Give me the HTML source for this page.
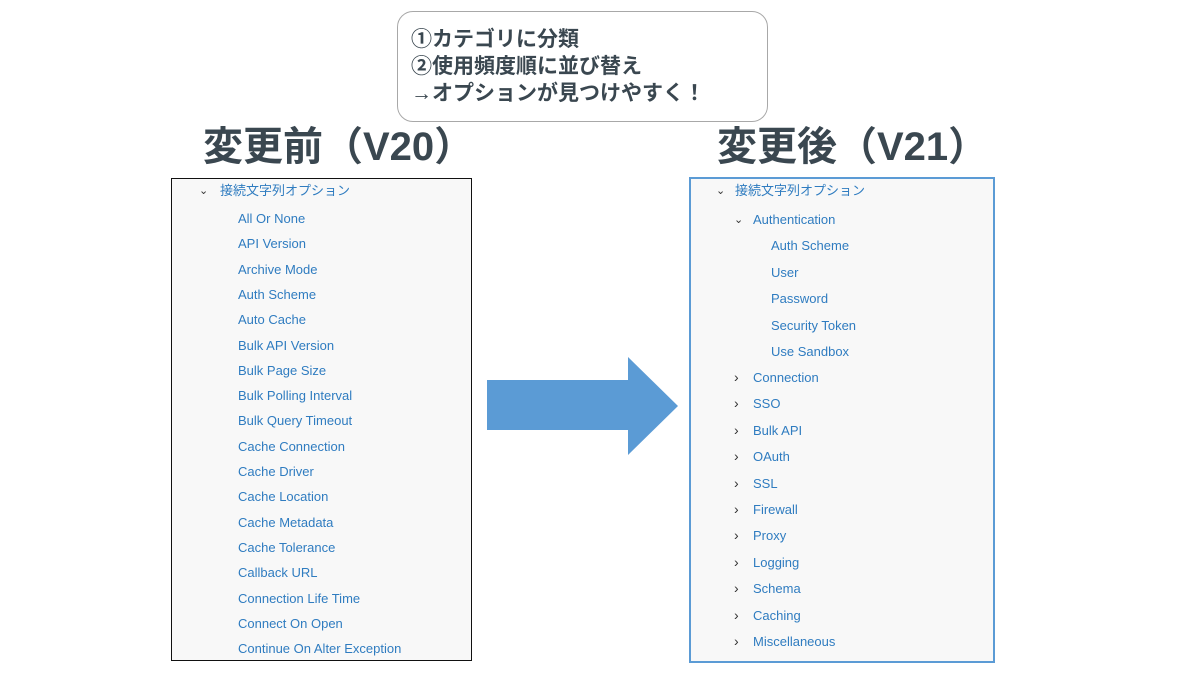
<!DOCTYPE html>
<html><head><meta charset="utf-8"><style>
body{margin:0;width:1200px;height:675px;background:#fff;position:relative;overflow:hidden;font-family:"Liberation Sans","Noto Sans CJK JP",sans-serif}
.a{position:absolute;white-space:nowrap}
.box{position:absolute;background:#f8f8f8}
.it{position:absolute;font-size:13px;color:#2f7cc0;line-height:16px;white-space:nowrap}
.t{font-size:40px;font-weight:bold;color:#3a4750;line-height:48px}
.chev{position:absolute;font-size:11px;color:#333;line-height:16px}
</style></head><body>
<div class="a" style="left:397px;top:11px;width:369px;height:109px;border:1px solid #a8a8a8;border-radius:16px"></div>
<div class="a" style="left:411px;top:26px;font-size:21px;font-weight:bold;color:#3a4750;line-height:27px">①カテゴリに分類<br>②使用頻度順に並び替え<br>→オプションが見つけやすく！</div>
<div class="a t" style="left:203px;top:123px">変更前（V20）</div>
<div class="a t" style="left:717px;top:123px">変更後（V21）</div>
<div class="box" style="left:171px;top:178px;width:299px;height:481px;border:1px solid #111"></div>
<div class="box" style="left:689px;top:177px;width:302px;height:482px;border:2px solid #5b9bd5"></div>
<svg class="a" style="left:0;top:0" width="1200" height="675"><polygon points="487,380 628,380 628,357 678,406 628,455 628,430 487,430" fill="#5b9bd5"/></svg>
<div class="chev" style="left:199px;top:183px">⌄</div>
<div class="it" style="left:220px;top:183px">接続文字列オプション</div>
<div id="L"></div>
<div class="chev" style="left:716px;top:183px">⌄</div>
<div class="it" style="left:735px;top:183px">接続文字列オプション</div>
<div class="chev" style="left:734px;top:212px">⌄</div>
<div class="it" style="left:753px;top:212px">Authentication</div>
<div id="R"></div>
<script>
var l=["All Or None","API Version","Archive Mode","Auth Scheme","Auto Cache","Bulk API Version","Bulk Page Size","Bulk Polling Interval","Bulk Query Timeout","Cache Connection","Cache Driver","Cache Location","Cache Metadata","Cache Tolerance","Callback URL","Connection Life Time","Connect On Open","Continue On Alter Exception"];
var h="";l.forEach(function(s,i){h+='<div class="it" style="left:238px;top:'+(211+i*25.3)+'px">'+s+'</div>'});
document.getElementById("L").outerHTML=h;
var s=["Auth Scheme","User","Password","Security Token","Use Sandbox"],c=["Connection","SSO","Bulk API","OAuth","SSL","Firewall","Proxy","Logging","Schema","Caching","Miscellaneous"];
h="";s.forEach(function(t,i){h+='<div class="it" style="left:771px;top:'+(238+i*26.5)+'px">'+t+'</div>'});
c.forEach(function(t,i){var y=370+i*26.4;h+='<div class="chev" style="left:734px;top:'+(y-1)+'px;font-size:14px">›</div><div class="it" style="left:753px;top:'+y+'px">'+t+'</div>'});
document.getElementById("R").outerHTML=h;
</script>
</body></html>
